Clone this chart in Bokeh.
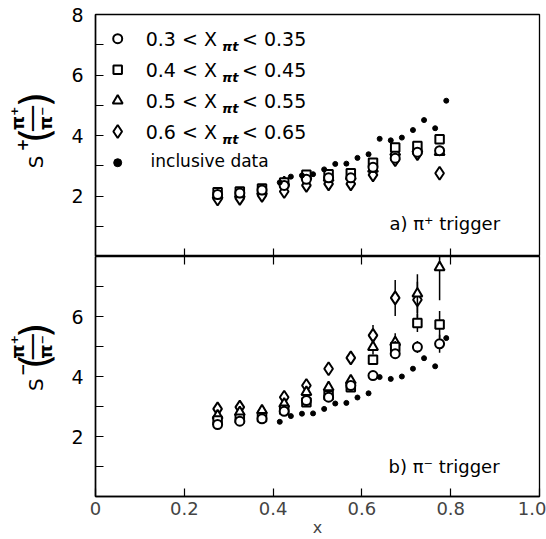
from math import pi
from bokeh.plotting import figure
from bokeh.layouts import column, row
from bokeh.models import FixedTicker, Label, ColumnDataSource, Range1d, LinearAxis
from bokeh.core.properties import value
from bokeh.embed import file_html
from bokeh.resources import INLINE

FONT = "DejaVu Sans"

# ---------------- data ----------------
x_bins = [0.275, 0.325, 0.375, 0.425, 0.475, 0.525, 0.575, 0.625, 0.675, 0.725, 0.775]

# panel a) pi+ trigger
a_circle = [2.05, 2.10, 2.20, 2.35, 2.55, 2.60, 2.60, 2.95, 3.25, 3.45, 3.50]
a_square = [2.12, 2.15, 2.25, 2.45, 2.70, 2.72, 2.75, 3.10, 3.60, 3.65, 3.88]
a_triangle = [2.02, 2.05, 2.15, 2.45, 2.65, 2.60, 2.65, 2.90, 3.45, 3.55, 3.45]
a_diamond = [1.90, 1.92, 2.02, 2.15, 2.35, 2.40, 2.40, 2.70, 3.20, 3.40, 2.75]
a_circle_err = [0.05, 0.05, 0.05, 0.05, 0.05, 0.05, 0.06, 0.06, 0.08, 0.08, 0.12]
a_square_err = [0.05, 0.05, 0.05, 0.05, 0.05, 0.05, 0.06, 0.06, 0.08, 0.08, 0.12]
a_triangle_err = [0.05, 0.05, 0.05, 0.05, 0.05, 0.05, 0.06, 0.06, 0.08, 0.08, 0.12]
a_diamond_err = [0.05, 0.05, 0.05, 0.05, 0.05, 0.06, 0.06, 0.08, 0.10, 0.10, 0.15]

# inclusive data
x_incl = [0.415, 0.44, 0.465, 0.49, 0.515, 0.54, 0.565, 0.59, 0.615, 0.64,
          0.665, 0.69, 0.715, 0.74, 0.765, 0.79]
a_incl = [2.45, 2.64, 2.68, 2.72, 2.88, 3.06, 3.07, 3.26, 3.38, 3.89,
          3.84, 3.93, 4.18, 4.51, 4.24, 5.15]
b_incl = [2.49, 2.68, 2.76, 2.77, 2.92, 3.10, 3.12, 3.30, 3.44, 3.98,
          3.92, 4.00, 4.26, 4.61, 4.34, 5.28]

# panel b) pi- trigger
b_circle = [2.40, 2.51, 2.59, 2.84, 3.20, 3.31, 3.70, 4.03, 4.76, 4.98, 5.09]
b_square = [2.53, 2.59, 2.64, 2.89, 3.14, 3.37, 3.64, 4.56, 4.98, 5.78, 5.73]
b_triangle = [2.70, 2.81, 2.87, 3.09, 3.48, 3.64, 3.87, 4.98, 5.14, 6.76, 7.64]
x_b_diamond = [0.275, 0.325, 0.375, 0.425, 0.475, 0.525, 0.575, 0.625, 0.675, 0.725]
b_diamond = [2.92, 2.98, 2.80, 3.31, 3.70, 4.26, 4.62, 5.37, 6.62, 6.56]
b_circle_err = [0.08, 0.08, 0.08, 0.08, 0.10, 0.10, 0.10, 0.12, 0.15, 0.20, 0.30]
b_square_err = [0.08, 0.08, 0.08, 0.08, 0.10, 0.10, 0.12, 0.15, 0.20, 0.30, 0.45]
b_triangle_err = [0.10, 0.10, 0.10, 0.12, 0.12, 0.12, 0.15, 0.25, 0.30, 0.65, 1.10]
b_diamond_err = [0.10, 0.10, 0.10, 0.12, 0.15, 0.15, 0.18, 0.35, 0.60, 0.60]

legend_lo = ["0.3 < X", "0.4 < X", "0.5 < X", "0.6 < X"]
legend_sub = ["πt", "πt", "πt", "πt"]
legend_hi = ["< 0.35", "< 0.45", "< 0.55", "< 0.65"]
legend_incl = "inclusive data"

x_ticks = [0, 0.2, 0.4, 0.6, 0.8, 1.0]
x_tick_labels = ["0", "0.2", "0.4", "0.6", "0.8", "1.0"]
inner_x_ticks = [0.2, 0.4, 0.6, 0.8]
y_ticks_a = [2, 4, 6, 8]
y_ticks_b = [2, 4, 6]
y_minor = [1, 3, 5, 7]

# ---------------- helpers ----------------
def base_fig(fh, top, bottom):
    p = figure(frame_width=444, frame_height=fh, x_range=Range1d(0, 1), y_range=Range1d(0, 8),
               output_backend="svg", toolbar_location=None,
               min_border_left=35, min_border_right=7,
               min_border_top=top, min_border_bottom=bottom)
    p.xgrid.visible = False
    p.ygrid.visible = False
    p.outline_line_color = "black"
    p.outline_line_width = 1.3
    p.background_fill_color = "white"
    p.border_fill_color = "white"
    return p


def style_inner_xaxis(ax):
    ax.ticker = FixedTicker(ticks=inner_x_ticks)
    ax.major_label_overrides = {t: "" for t in inner_x_ticks}
    ax.major_tick_in = 8
    ax.major_tick_out = 0
    ax.minor_tick_line_color = None
    ax.major_label_text_font_size = "1px"
    ax.major_label_standoff = 0
    ax.axis_line_color = None
    ax.major_tick_line_width = 1.2


def style_yaxis(ax, ticks):
    ax.ticker = FixedTicker(ticks=ticks, minor_ticks=y_minor)
    ax.major_tick_in = 8
    ax.major_tick_out = 0
    ax.minor_tick_in = 8
    ax.minor_tick_out = 0
    ax.major_tick_line_width = 1.2
    ax.minor_tick_line_width = 1.2
    ax.axis_line_width = 1.5
    ax.major_label_text_font = FONT
    ax.major_label_text_font_size = "19px"
    ax.major_label_text_color = "black"
    ax.major_label_standoff = 12


def draw_series(p, xs, ys, errs, marker, size):
    src = ColumnDataSource(dict(x=xs, y=ys,
                                lo=[y - e for y, e in zip(ys, errs)],
                                hi=[y + e for y, e in zip(ys, errs)]))
    p.segment(x0="x", y0="lo", x1="x", y1="hi", source=src,
              line_color="black", line_width=1.5)
    p.scatter(x="x", y="y", source=src, marker=marker, size=size,
              fill_color="white", line_color="black", line_width=2)


def draw_incl(p, ys, size=5):
    p.scatter(x=x_incl, y=ys, marker="circle", size=size,
              fill_color="black", line_color="black")


def ylabel_fig(h, y_top, sup):
    """Small figure holding the rotated S(pi+/pi-) label, in pixel coordinates."""
    f = figure(width=60, height=h, x_range=Range1d(0, 60), y_range=Range1d(y_top + h, y_top),
               x_axis_type=None, y_axis_type=None, output_backend="svg",
               toolbar_location=None, min_border=0, outline_line_color=None)
    f.xgrid.visible = False
    f.ygrid.visible = False
    f.border_fill_color = "white"
    off = y_top
    pieces = [
        ("S", 35, 156, "20px", "normal"),
        (sup, 21, 138, "15px", "bold"),
        ("(", 34, 128, "40px", "normal"),
        ("π⁺", 17, 110, "18px", "bold"),
        ("—", 31, 110, "28px", "normal"),
        ("π⁻", 45, 110, "18px", "bold"),
        (")", 34, 90, "40px", "normal"),
    ]
    for t, x, y, fs, st in pieces:
        f.text(x=[x], y=[y + off], text=[t], angle=pi / 2,
               text_align="center", text_baseline="middle",
               text_font=value(FONT), text_font_size=fs, text_font_style=st,
               text_color="black")
    return f


# ---------------- top panel ----------------
p1 = base_fig(242, 14, 0)
style_inner_xaxis(p1.xaxis[0])
style_yaxis(p1.yaxis[0], y_ticks_a)

draw_series(p1, x_bins, a_diamond, a_diamond_err, "diamond", 13)
draw_series(p1, x_bins, a_triangle, a_triangle_err, "triangle", 10)
draw_series(p1, x_bins, a_square, a_square_err, "square", 8.5)
draw_series(p1, x_bins, a_circle, a_circle_err, "circle", 9)
draw_incl(p1, a_incl)

# legend (manual)
leg_x = 0.05
leg_rows = [7.2, 6.17, 5.15, 4.13, 3.1]
for marker, size, yy in zip(["circle", "square", "triangle", "diamond"],
                            [9, 8.5, 10, 13], leg_rows[:4]):
    p1.scatter(x=[leg_x], y=[yy], marker=marker, size=size,
               fill_color="white", line_color="black", line_width=2)
p1.scatter(x=[leg_x], y=[leg_rows[4]], marker="circle", size=8,
           fill_color="black", line_color="black")

leg_src = ColumnDataSource(dict(
    y=leg_rows[:4], ysub=[r - 0.25 for r in leg_rows[:4]],
    lo=legend_lo, sub=legend_sub, hi=legend_hi))
p1.text(x=0.113, y="y", text="lo", source=leg_src, text_font=value(FONT),
        text_font_size="19px", text_align="left", text_baseline="middle")
p1.text(x=0.285, y="ysub", text="sub", source=leg_src, text_font=value(FONT),
        text_font_size="13px", text_font_style="bold italic",
        text_align="left", text_baseline="middle")
p1.text(x=0.33, y="y", text="hi", source=leg_src, text_font=value(FONT),
        text_font_size="19px", text_align="left", text_baseline="middle")
p1.add_layout(Label(x=0.124, y=leg_rows[4] + 0.05, text=legend_incl, text_font=FONT,
                    text_font_size="17px", text_align="left", text_baseline="middle",
                    text_color="black"))

p1.add_layout(Label(x=0.662, y=1.1, text="a)  π⁺ trigger", text_font=FONT,
                    text_font_size="18px", text_align="left", text_baseline="middle",
                    text_color="black"))

# ---------------- bottom panel ----------------
p2 = base_fig(240, 0, 0)
bx = p2.below[0]
bx.ticker = FixedTicker(ticks=x_ticks)
bx.major_label_overrides = {t: l for t, l in zip(x_ticks, x_tick_labels)}
bx.major_tick_in = 8
bx.major_tick_out = 0
bx.minor_tick_line_color = None
bx.major_tick_line_width = 1.2
bx.axis_line_width = 1.5
bx.major_label_text_font = FONT
bx.major_label_text_font_size = "18px"
bx.major_label_standoff = 5
bx.axis_label = "x"
bx.axis_label_text_font = FONT
bx.axis_label_text_font_size = "16px"
bx.axis_label_text_font_style = "normal"
bx.axis_label_standoff = 0
top_ax = LinearAxis()
style_inner_xaxis(top_ax)
p2.add_layout(top_ax, "above")
style_yaxis(p2.yaxis[0], y_ticks_b)

draw_series(p2, x_b_diamond, b_diamond, b_diamond_err, "diamond", 13)
draw_series(p2, x_bins, b_triangle, b_triangle_err, "triangle", 10)
draw_series(p2, x_bins, b_square, b_square_err, "square", 8.5)
draw_series(p2, x_bins, b_circle, b_circle_err, "circle", 9)
draw_incl(p2, b_incl)

p2.add_layout(Label(x=0.66, y=1.0, text="b)  π⁻ trigger", text_font=FONT,
                    text_font_size="18px", text_align="left", text_baseline="middle",
                    text_color="black"))

yl1 = ylabel_fig(256, 0, "+")
yl2 = ylabel_fig(240, 250, "−")

layout = column(row(yl1, p1), row(yl2, p2))
open("out.html", "w").write(file_html(layout, INLINE))
